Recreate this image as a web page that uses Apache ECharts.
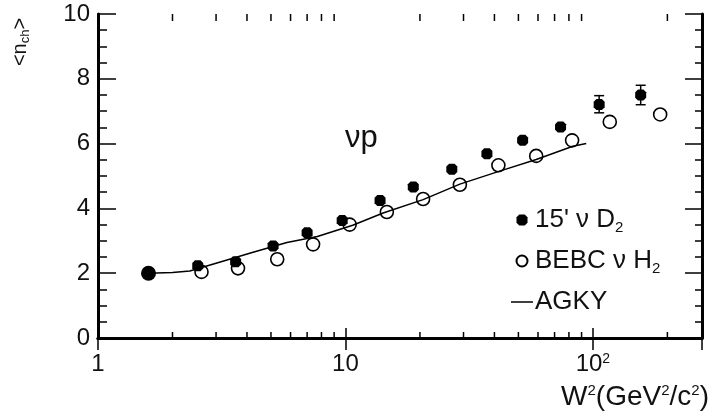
<!DOCTYPE html>
<html><head><meta charset="utf-8">
<script src="https://cdn.jsdelivr.net/npm/echarts@6/dist/echarts.min.js"></script>
<style>html,body{margin:0;padding:0;background:#fff}#c{width:711px;height:413px}</style>
</head><body><div id="c"></div>
<script>
// 15' nu D2 (filled markers)
const d2W = [1.6, 2.53, 3.6, 5.1, 7.0, 9.7, 13.8, 18.8, 26.9, 37.3, 52, 74, 106, 156];
const d2N = [2.0, 2.23, 2.35, 2.84, 3.25, 3.63, 4.24, 4.66, 5.21, 5.69, 6.1, 6.51, 7.21, 7.5];
// error bars on the two highest-W points
const errW = [106, 156];
const errLow = [6.95, 7.2];
const errHigh = [7.48, 7.8];
// BEBC nu H2 (open circles)
const h2W = [2.62, 3.68, 5.3, 7.4, 10.4, 14.7, 20.6, 29, 41.5, 59, 82.4, 117, 187];
const h2N = [2.04, 2.15, 2.43, 2.89, 3.5, 3.89, 4.29, 4.73, 5.33, 5.62, 6.1, 6.67, 6.9];
// AGKY model curve
const agkyW = [1.6, 2.0, 2.35, 3.0, 4.2, 5.8, 7.7, 10.7, 14.2, 20.6, 29, 42, 59, 83, 94];
const agkyN = [2.0, 2.02, 2.07, 2.31, 2.64, 2.95, 3.13, 3.48, 3.86, 4.27, 4.75, 5.15, 5.51, 5.92, 6.0];
// axis ticks
const xMajorLabels = {1: '1', 10: '10', 100: '10{sup|2}'};
const xMinorTicks = [2, 3, 4, 5, 6, 7, 8, 9, 20, 30, 40, 50, 60, 70, 80, 90, 200];
const xMin = 1, xMax = 276;
const yMin = 0, yMax = 10, yStep = 2;
const seriesNames = ["15' νD2", "BEBC νH2", "AGKY"];
const legendLabels = {"15' νD2": "15' ν D{sub|2}", "BEBC νH2": "BEBC ν H{sub|2}", "AGKY": "AGKY"};

const zip = (a, b) => a.map((v, i) => [v, b[i]]);
const octagon = 'path://M2.5,0 L7.5,0 L10,2.5 L10,7.5 L7.5,10 L2.5,10 L0,7.5 L0,2.5 Z';
const lineIcon = 'path://M0,0 L22,0 L22,1.5 L0,1.5 Z';
const chart = echarts.init(document.getElementById('c'), null, {renderer: 'canvas'});
const FONT = 'Liberation Sans, Arial, sans-serif';

const xAxisBase = {
  type: 'log', logBase: 10, min: xMin, max: xMax,
  axisLine: {lineStyle: {color: '#000', width: 3}},
  axisTick: {inside: true, length: 10, lineStyle: {color: '#000', width: 1.5}},
  splitLine: {show: false}, minorTick: {show: false}, minorSplitLine: {show: false}
};
const yAxisBase = {
  type: 'value', min: yMin, max: yMax, interval: yStep,
  axisLine: {lineStyle: {color: '#000', width: 3}},
  axisTick: {inside: true, length: 18, lineStyle: {color: '#000', width: 1.5}},
  minorTick: {show: true, splitNumber: 4, length: 9, lineStyle: {color: '#000', width: 1.5}},
  splitLine: {show: false}
};

chart.setOption({
  animation: false,
  backgroundColor: '#fff',
  grid: {left: 98, right: 9, top: 14, bottom: 75, containLabel: false},
  xAxis: [
    Object.assign({}, xAxisBase, {
      position: 'bottom',
      axisLabel: {
        fontSize: 24, fontFamily: FONT, color: '#111', margin: 14,
        showMaxLabel: false,
        formatter: v => { const k = Math.round(v); return (Math.abs(v - k) < 1e-6 && xMajorLabels[k]) ? xMajorLabels[k] : ''; },
        rich: {sup: {fontSize: 14, fontFamily: FONT, color: '#111', verticalAlign: 'top', lineHeight: 14}}
      }
    }),
    Object.assign({}, xAxisBase, {position: 'top', axisLabel: {show: false}, axisTick: {inside: true, length: 12, lineStyle: {color: '#000', width: 1.5}}})
  ],
  yAxis: [
    Object.assign({}, yAxisBase, {
      position: 'left',
      axisLabel: {fontSize: 24, fontFamily: FONT, color: '#111', margin: 8, padding: [5, 0, 0, 0]}
    }),
    Object.assign({}, yAxisBase, {
      position: 'right', axisLabel: {show: false},
      axisTick: {inside: true, length: 17, lineStyle: {color: '#000', width: 1.5}},
      minorTick: {show: true, splitNumber: 4, length: 7, lineStyle: {color: '#000', width: 1.5}}
    })
  ],
  legend: {
    orient: 'vertical', left: 506, top: 200, itemWidth: 22, itemHeight: 11, itemGap: 11,
    selectedMode: false, symbolKeepAspect: true,
    data: [
      {name: seriesNames[0], icon: octagon, itemStyle: {opacity: 1}},
      {name: seriesNames[1], icon: 'circle', itemStyle: {opacity: 1}},
      {name: seriesNames[2], icon: lineIcon, itemStyle: {color: '#000', opacity: 1}}
    ],
    formatter: n => legendLabels[n],
    textStyle: {
      fontSize: 26, fontFamily: FONT, color: '#111', lineHeight: 30, padding: [0, 0, 0, -3],
      rich: {sub: {fontSize: 15, fontFamily: FONT, color: '#111', verticalAlign: 'bottom', lineHeight: 14}}
    }
  },
  graphic: [
    {type: 'text', x: 345, y: 138, style: {text: 'νp', font: '31px ' + FONT, fill: '#111', verticalAlign: 'middle', align: 'left'}},
    {type: 'text', x: 709, y: 397, style: {
      text: 'W{sup|2}(GeV{sup|2}/c{sup|2})', font: '28px ' + FONT, fill: '#111', align: 'right', verticalAlign: 'middle',
      rich: {sup: {fontSize: 15, fontFamily: FONT, fill: '#111', verticalAlign: 'top', lineHeight: 20}}
    }},
    {type: 'text', x: 20, y: 42, rotation: Math.PI / 2, style: {
      text: '<n{sub|ch}>', font: '20px ' + FONT, fill: '#111', align: 'center', verticalAlign: 'middle', lineHeight: 24,
      rich: {sub: {fontSize: 13, fontFamily: FONT, fill: '#111', verticalAlign: 'bottom', lineHeight: 13}}
    }}
  ],
  series: [
    {
      name: seriesNames[2], type: 'line', data: zip(agkyW, agkyN),
      showSymbol: false, symbol: 'none', smooth: false,
      lineStyle: {color: '#000', width: 1.5}, itemStyle: {color: '#000'}, z: 2
    },
    {
      name: seriesNames[1], type: 'scatter', data: zip(h2W, h2N),
      symbol: 'circle', symbolSize: 13,
      itemStyle: {color: 'rgba(255,255,255,0)', borderColor: '#000', borderWidth: 1.6, opacity: 1}, z: 3
    },
    {
      name: seriesNames[0], type: 'scatter', data: zip(d2W, d2N),
      symbol: (v, p) => p.dataIndex === 0 ? 'circle' : octagon,
      symbolSize: (v, p) => p.dataIndex === 0 ? 15 : 11,
      itemStyle: {color: '#000', opacity: 1}, z: 4
    },
    {
      type: 'custom', name: 'err', silent: true, z: 4,
      data: errW.map((w, i) => [w, errLow[i], errHigh[i]]),
      encode: {x: 0, y: [1, 2]},
      renderItem: (params, api) => {
        const lo = api.coord([api.value(0), api.value(1)]);
        const hi = api.coord([api.value(0), api.value(2)]);
        const s = {stroke: '#000', lineWidth: 1.5};
        return {type: 'group', children: [
          {type: 'line', shape: {x1: lo[0], y1: lo[1], x2: hi[0], y2: hi[1]}, style: s},
          {type: 'line', shape: {x1: lo[0] - 5, y1: lo[1], x2: lo[0] + 5, y2: lo[1]}, style: s},
          {type: 'line', shape: {x1: hi[0] - 5, y1: hi[1], x2: hi[0] + 5, y2: hi[1]}, style: s}
        ]};
      }
    },
    {
      type: 'custom', name: 'minorTicks', silent: true, z: 5, clip: false,
      data: xMinorTicks.map(v => [v, yMin]),
      encode: {x: 0, y: 1},
      renderItem: (params, api) => {
        const b = api.coord([api.value(0), yMin]);
        const t = api.coord([api.value(0), yMax]);
        const s = {stroke: '#000', lineWidth: 1.5};
        return {type: 'group', children: [
          {type: 'line', shape: {x1: b[0], y1: b[1], x2: b[0], y2: b[1] - 6}, style: s},
          {type: 'line', shape: {x1: t[0], y1: t[1], x2: t[0], y2: t[1] + 7}, style: s}
        ]};
      }
    }
  ]
});
</script>
</body></html>
